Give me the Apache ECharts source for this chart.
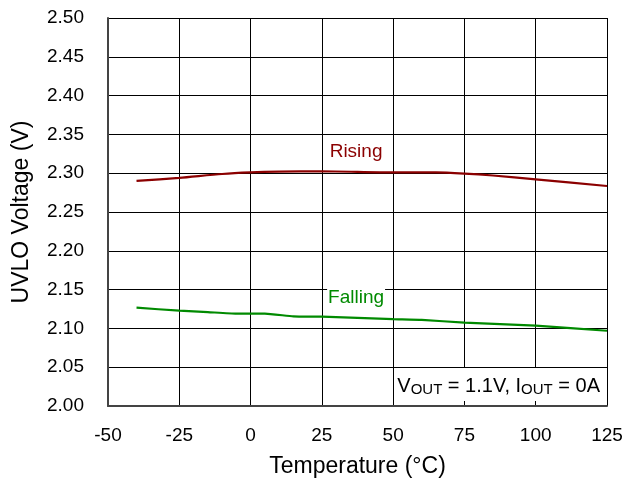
<!DOCTYPE html>
<html><head><meta charset="utf-8">
<script src="https://cdn.jsdelivr.net/npm/echarts@6/dist/echarts.min.js"></script>
<style>html,body{margin:0;padding:0;background:#fff}#c{width:627px;height:485px}</style>
</head><body><div id="c"></div>
<script>
var temps = [-40, -25, -10, 0, 10, 25, 50, 65, 75, 85, 100, 125];
var rising = [2.290, 2.294, 2.299, 2.301, 2.302, 2.3025, 2.301, 2.301, 2.2995, 2.297, 2.292, 2.2835];
var fallTemps = [-40, -25, -15, -5, 5, 15, 25, 50, 60, 75, 100, 125];
var falling = [2.1267, 2.1228, 2.121, 2.119, 2.119, 2.1156, 2.1151, 2.112, 2.111, 2.1074, 2.1035, 2.097];
var xTicks = [-50, -25, 0, 25, 50, 75, 100, 125];
var yTicks = [2.00, 2.05, 2.10, 2.15, 2.20, 2.25, 2.30, 2.35, 2.40, 2.45, 2.50];

function pairs(xs, ys){ return xs.map(function(x,i){return [x, ys[i]];}); }

var font = 'Liberation Sans, Arial, sans-serif';
var chart = echarts.init(document.getElementById('c'), null, {renderer:'canvas'});
chart.setOption({
  animation:false,
  backgroundColor:'#fff',
  grid:{left:108, right:20, top:18, bottom:79, show:false},
  xAxis:{
    type:'value', min:xTicks[0], max:xTicks[xTicks.length-1], interval:25,
    name:'Temperature (°C)', nameLocation:'middle', nameGap:49,
    nameTextStyle:{fontFamily:font, fontSize:23, color:'#000'},
    axisLine:{show:true, onZero:false, lineStyle:{color:'#444', width:2}},
    axisTick:{show:false},
    axisLabel:{fontFamily:font, fontSize:19, color:'#000', margin:20},
    splitLine:{show:true, lineStyle:{color:'#000', width:1}}
  },
  yAxis:{
    type:'value', min:yTicks[0], max:yTicks[yTicks.length-1], interval:0.05,
    name:'UVLO Voltage (V)', nameLocation:'middle', nameGap:75, nameRotate:90,
    nameTextStyle:{fontFamily:font, fontSize:23, color:'#000'},
    axisLine:{show:true, onZero:false, lineStyle:{color:'#444', width:2}},
    axisTick:{show:false},
    axisLabel:{fontFamily:font, fontSize:19, color:'#000', margin:24,
      formatter:function(v){return v.toFixed(2);}},
    splitLine:{show:true, lineStyle:{color:'#000', width:1}}
  },
  series:[
    {type:'line', data:pairs(temps, rising), showSymbol:false, smooth:0.25,
     lineStyle:{color:'#8b0000', width:2.2}, z:5,
     markPoint:{symbol:'circle', symbolSize:0, data:[{coord:[37, 2.328]}],
       label:{show:true, formatter:'Rising', fontFamily:font, fontSize:19, color:'#8b0000'}}},
    {type:'line', data:pairs(fallTemps, falling), showSymbol:false, smooth:0.15,
     lineStyle:{color:'#008a00', width:2.2}, z:5,
     markPoint:{symbol:'circle', symbolSize:0, data:[{coord:[37, 2.139]}],
       label:{show:true, formatter:'Falling', fontFamily:font, fontSize:19, color:'#008a00',
         backgroundColor:'#fff', padding:[1,1,1,1]}}}
  ],
  graphic:[
    {type:'rect', right:22, bottom:84, shape:{width:210, height:33}, style:{fill:'#fff'}, z:10},
    {type:'text', right:27, bottom:88, z:11,
     style:{rich:{n:{fontFamily:font, fontSize:20, fill:'#000'}, s:{fontFamily:font, fontSize:15, fill:'#000', verticalAlign:'bottom', padding:[7,0,0,0]}},
       text:'{n|V}{s|OUT}{n| = 1.1V, I}{s|OUT}{n| = 0A}'}}
  ]
});
</script></body></html>
